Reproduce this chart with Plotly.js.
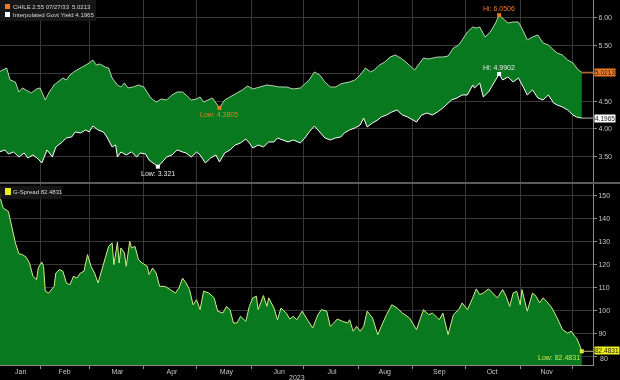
<!DOCTYPE html>
<html><head><meta charset="utf-8">
<script src="https://cdn.plot.ly/plotly-3.0.1.min.js"></script>
<style>html,body{margin:0;padding:0;background:#000;}#chart{width:620px;height:380px;will-change:transform;transform:translateZ(0);}</style>
</head><body><div id="chart"></div>
<script>
const YEAR = '2023';
const chileDates = ['01-09','01-11','01-13','01-15','01-18','01-20','01-22','01-24','01-27','01-30',
 '02-01','02-04','02-06','02-09','02-11','02-14','02-16','02-18','02-21','02-24',
 '02-27','03-01','03-03','03-05','03-07','03-10','03-12','03-14','03-17','03-19',
 '03-21','03-23','03-26','03-29','04-01','04-03','04-05','04-08','04-11','04-14',
 '04-17','04-20','04-23','04-25','04-28','05-01','05-03','05-05','05-08','05-10',
 '05-14','05-17','05-20','05-24','05-27','05-30','06-02','06-06','06-10','06-14',
 '06-17','06-21','06-25','06-29','07-02','07-04','07-07','07-10','07-13','07-16',
 '07-19','07-22','07-24','07-27','07-30','08-02','08-05','08-08','08-10','08-13',
 '08-16','08-19','08-22','08-25','08-28','08-30','09-02','09-04','09-07','09-10',
 '09-12','09-15','09-18','09-21','09-24','09-27','09-29','10-02','10-05','10-07',
 '10-09','10-12','10-15','10-18','10-20','10-22','10-25','10-28','10-31','11-03',
 '11-05','11-08','11-11','11-14','11-17','11-20','11-22','11-25','11-28','12-01',
 '12-04','12-06'];
const chileYield = [5.033,5.063,5.099,4.883,4.847,4.667,4.739,4.703,4.649,4.721,
 4.739,4.523,4.649,4.793,4.847,4.919,4.883,4.973,5.045,5.099,
 5.153,5.189,5.243,5.153,5.171,5.117,5.099,4.919,4.793,4.757,
 4.829,4.739,4.757,4.793,4.757,4.667,4.559,4.486,4.541,4.523,
 4.613,4.667,4.667,4.613,4.523,4.541,4.577,4.486,4.523,4.559,
 4.3805,4.523,4.577,4.649,4.703,4.775,4.721,4.757,4.793,4.775,
 4.757,4.757,4.721,4.739,4.829,4.883,5.027,4.973,4.847,4.757,
 4.757,4.811,4.829,4.847,4.883,4.973,5.099,5.027,5.063,5.153,
 5.207,5.297,5.333,5.279,5.207,5.153,5.063,5.153,5.279,5.261,
 5.279,5.297,5.297,5.315,5.459,5.514,5.604,5.748,5.838,5.820,
 5.838,5.658,5.748,5.910,6.0506,6.000,5.910,5.928,5.928,5.748,
 5.604,5.658,5.694,5.550,5.514,5.423,5.369,5.333,5.243,5.189,
 5.063,5.0213];
const govtDates = ['01-09','01-12','01-14','01-17','01-20','01-23','01-25','01-28','01-31','02-02',
 '02-05','02-08','02-10','02-13','02-16','02-19','02-21','02-24','02-27','03-01',
 '03-03','03-06','03-09','03-11','03-14','03-16','03-17','03-19','03-22','03-25',
 '03-28','03-30','04-02','04-04','04-07','04-09','04-11','04-14','04-17','04-20',
 '04-23','04-25','04-28','05-01','05-03','05-06','05-09','05-12','05-14','05-17',
 '05-20','05-23','05-26','05-29','05-31','06-02','06-05','06-08','06-11','06-14',
 '06-16','06-19','06-22','06-25','06-29','07-02','07-04','07-07','07-10','07-13',
 '07-16','07-19','07-22','07-24','07-27','07-30','08-02','08-04','08-06','08-09',
 '08-12','08-14','08-17','08-20','08-23','08-26','08-29','09-01','09-03','09-06',
 '09-09','09-12','09-15','09-18','09-20','09-23','09-26','09-29','10-02','10-05',
 '10-06','10-09','10-11','10-14','10-17','10-20','10-22','10-25','10-28','10-31',
 '11-03','11-05','11-08','11-11','11-14','11-17','11-20','11-22','11-25','11-28',
 '12-01','12-03','12-06'];
const govtYield = [3.586,3.622,3.550,3.586,3.495,3.568,3.477,3.532,3.459,3.387,
 3.622,3.495,3.676,3.748,3.838,3.856,3.946,3.928,3.982,3.946,
 4.054,3.982,3.946,3.856,3.676,3.712,3.495,3.586,3.532,3.586,
 3.495,3.568,3.550,3.441,3.369,3.321,3.387,3.495,3.532,3.622,
 3.586,3.568,3.495,3.586,3.532,3.387,3.477,3.532,3.405,3.568,
 3.622,3.712,3.748,3.820,3.748,3.658,3.712,3.676,3.766,3.766,
 3.838,3.802,3.766,3.802,3.748,3.856,3.946,4.054,3.946,3.838,
 3.802,3.838,3.856,3.928,3.982,4.018,4.072,4.198,4.036,4.108,
 4.162,4.216,4.252,4.306,4.342,4.252,4.216,4.162,4.126,4.252,
 4.288,4.252,4.306,4.378,4.432,4.523,4.559,4.613,4.613,4.793,
 4.739,4.829,4.577,4.667,4.829,4.9902,4.883,4.937,4.847,4.919,
 4.739,4.613,4.703,4.559,4.523,4.613,4.468,4.432,4.396,4.342,
 4.252,4.216,4.1965];
const spreadDates = ['01-09','01-11','01-14','01-16','01-18','01-20','01-22','01-24','01-26','01-28',
 '01-30','01-31','02-02','02-03','02-04','02-06','02-09','02-10','02-12','02-14',
 '02-16','02-18','02-20','02-22','02-24','02-26','02-28','03-02','03-04','03-06',
 '03-08','03-10','03-12','03-14','03-15','03-17','03-18','03-19','03-21','03-22',
 '03-24','03-25','03-27','03-29','03-31','04-03','04-04','04-06','04-08','04-10',
 '04-13','04-16','04-19','04-21','04-23','04-25','04-27','04-29','05-01','05-03',
 '05-05','05-08','05-11','05-13','05-16','05-18','05-20','05-22','05-24','05-26',
 '05-29','05-31','06-02','06-04','06-05','06-08','06-10','06-11','06-14','06-16',
 '06-18','06-21','06-23','06-25','06-27','06-30','07-03','07-06','07-09','07-11',
 '07-14','07-16','07-18','07-20','07-23','07-26','07-27','07-29','07-31','08-02',
 '08-04','08-06','08-09','08-12','08-14','08-17','08-20','08-23','08-26','08-30',
 '09-03','09-07','09-10','09-12','09-15','09-16','09-18','09-21','09-24','09-27',
 '09-29','10-02','10-05','10-07','10-09','10-11','10-14','10-17','10-19','10-22',
 '10-24','10-26','10-28','10-30','11-01','11-02','11-05','11-08','11-10','11-12',
 '11-14','11-16','11-19','11-22','11-25','11-28','11-30','12-02','12-03','12-05',
 '12-06'];
const gSpread = [150.2,144.8,143.3,136.8,129.6,124.9,124.5,123.5,120.9,115.1,
 113.6,118.7,121.3,119.4,108.6,107.8,110.7,116.5,118.0,117.3,
 112.2,111.4,115.1,114.3,116.5,117.3,124.5,119.4,116.5,112.2,
 117.3,122.3,128.1,129.6,120.1,129.9,120.9,127.4,125.2,119.4,
 130.3,127.4,128.1,122.3,120.9,119.4,115.8,118.7,116.5,110.7,
 110.7,109.3,107.8,110.0,114.3,112.2,109.3,102.7,104.9,100.6,
 108.6,107.8,105.7,99.9,99.1,102.0,100.6,94.8,94.8,97.7,
 95.5,102.0,105.7,106.4,100.6,106.7,102.0,105.7,101.3,96.2,
 101.3,99.1,96.5,97.7,96.2,99.9,96.2,92.6,98.4,100.6,
 99.9,93.3,94.8,96.5,95.5,94.8,96.2,91.2,93.3,91.2,
 93.3,99.9,97.0,89.7,93.3,98.4,102.7,101.3,99.1,97.0,
 91.9,100.6,98.4,99.1,97.0,96.2,99.1,89.7,98.4,100.6,
 103.5,100.6,105.7,109.6,107.1,107.8,109.6,107.1,105.7,109.3,
 106.4,102.0,107.8,108.6,102.7,109.3,99.9,107.8,106.4,103.5,
 105.7,104.2,101.3,97.0,91.9,90.4,91.2,89.0,88.3,84.7,
 82.4831];
const monthTickDates = ['01-21','02-15','03-17','04-17','05-18','06-17','07-17','08-16','09-16','10-16','11-16'];
const monthLabels = ['Jan','Feb','Mar','Apr','May','Jun','Jul','Aug','Sep','Oct','Nov'];
const topTicks = [3.5,4,4.5,5,5.5,6];
const topTickText = ['3.50','4.00','4.50','','5.50','6.00'];
const bottomTicks = [80,90,100,110,120,130,140,150];
const bottomTickText = ['','90','100','110','120','130','140','150'];
const bottomLowTick = 80;

const d = a => a.map(s => YEAR + '-' + s);
const GREEN = '#08791f';
const ORANGE = '#f07a22';
const YELLOWLINE = '#d4ec8a';
const GRID = '#383838';
const AX = '#8a8a8a';
const TXT = '#c4c4c4';
const FONT = 'Liberation Sans, Arial, sans-serif';
const xStart = '2023-01-09 06:00', xEnd = '2023-12-12 09:00';

function argIdx(arr, cmp) { let k = 0; for (let i = 1; i < arr.length; i++) if (cmp(arr[i], arr[k])) k = i; return k; }
const cHi = argIdx(chileYield, (a,b)=>a>b), cLo = argIdx(chileYield, (a,b)=>a<b);
const gHi = argIdx(govtYield, (a,b)=>a>b), gLo = argIdx(govtYield, (a,b)=>a<b);
const sHi = argIdx(gSpread, (a,b)=>a>b), sLo = argIdx(gSpread, (a,b)=>a<b);
const cX = d(chileDates), gX = d(govtDates), sX = d(spreadDates);
const last = a => a[a.length-1];

const traces = [
  {x: cX, y: chileYield, type:'scatter', mode:'lines', line:{color:'rgba(215,235,205,0.85)', width:1}, xaxis:'x', yaxis:'y'},
  {x: gX, y: govtYield, type:'scatter', mode:'lines', fill:'tonexty', fillcolor:GREEN, line:{color:'#ffffff', width:1}, xaxis:'x', yaxis:'y'},
  {x: sX, y: gSpread, type:'scatter', mode:'lines', fill:'tozeroy', fillcolor:GREEN, line:{color:YELLOWLINE, width:1}, xaxis:'x', yaxis:'y2'},
  {x: [cX[cHi], cX[cLo]], y: [chileYield[cHi], chileYield[cLo]], mode:'markers', marker:{color:ORANGE, size:4, symbol:'square'}, xaxis:'x', yaxis:'y'},
  {x: [gX[gHi], gX[gLo]], y: [govtYield[gHi], govtYield[gLo]], mode:'markers', marker:{color:'#ffffff', size:4, symbol:'square'}, xaxis:'x', yaxis:'y'},
  {x: [sX[sHi], sX[sLo]], y: [gSpread[sHi], gSpread[sLo]], mode:'markers', marker:{color:'#f0f020', size:4, symbol:'square'}, xaxis:'x', yaxis:'y2'}
];

const f = (c, s) => ({family: FONT, size: s || 7, color: c});
const LEG = 6;
const annotations = [
  {xref:'x', yref:'y', x:cX[cHi], y:chileYield[cHi], text:'Hi: ' + chileYield[cHi].toFixed(4), showarrow:false, yanchor:'bottom', yshift:1, font:f(ORANGE)},
  {xref:'x', yref:'y', x:cX[cLo], y:chileYield[cLo], text:'Low: ' + chileYield[cLo].toFixed(4), showarrow:false, yanchor:'top', yshift:-1, font:f(ORANGE)},
  {xref:'x', yref:'y', x:gX[gHi], y:govtYield[gHi], text:'Hi: ' + govtYield[gHi].toFixed(4), showarrow:false, yanchor:'bottom', yshift:1, font:f('#e8e8e8')},
  {xref:'x', yref:'y', x:gX[gLo], y:govtYield[gLo], text:'Low: ' + String(govtYield[gLo]), showarrow:false, yanchor:'top', yshift:-1, font:f('#e8e8e8')},
  {xref:'x', yref:'y2', x:sX[sLo], y:gSpread[sLo], text:'Low: ' + gSpread[sLo].toFixed(4), showarrow:false, xanchor:'right', yanchor:'top', yshift:-1, font:f('#c8e650')},
  {xref:'paper', yref:'y', x:1, y:last(chileYield), text:last(chileYield).toFixed(4), showarrow:false, xanchor:'left', xshift:1, bgcolor:ORANGE, borderpad:0, font:f('#202020', 6.5)},
  {xref:'paper', yref:'y', x:1, y:last(govtYield), text:last(govtYield).toFixed(4), showarrow:false, xanchor:'left', xshift:1, bgcolor:'#ffffff', borderpad:0, font:f('#202020', 6.5)},
  {xref:'paper', yref:'y2', x:1, y:last(gSpread), text:last(gSpread).toFixed(4), showarrow:false, xanchor:'left', xshift:1, yshift:1, bgcolor:'#f0f020', borderpad:0, font:f('#202020', 6.5)},
  {xref:'paper', yref:'y2', x:1, y:bottomLowTick, text:String(bottomLowTick), showarrow:false, xanchor:'left', xshift:5, yshift:-2, font:f(TXT)},
  {xref:'paper', yref:'paper', x:0.0185, y:0.9808, text:'CHILE 2.55 07/27/33', showarrow:false, xanchor:'left', yanchor:'middle', font:f('#d8d8d8', LEG)},
  {xref:'paper', yref:'paper', x:0.1565, y:0.9808, text:last(chileYield).toFixed(4), showarrow:false, xanchor:'right', yanchor:'middle', font:f('#d8d8d8', LEG)},
  {xref:'paper', yref:'paper', x:0.0185, y:0.9589, text:'Interpolated Govt Yield ' + last(govtYield).toFixed(4), showarrow:false, xanchor:'left', yanchor:'middle', font:f('#d8d8d8', LEG)},
  {xref:'paper', yref:'paper', x:0.0185, y:0.474, text:'G-Spread ' + last(gSpread).toFixed(4), showarrow:false, xanchor:'left', yanchor:'middle', font:f('#d8d8d8', LEG)},
  {xref:'paper', yref:'paper', x:0.5, y:-0.033, text:YEAR, showarrow:false, xanchor:'center', yanchor:'middle', font:f(TXT)}
];

const shapes = [
  {type:'line', xref:'paper', yref:'paper', x0:0, x1:1.046, y0:0.4986, y1:0.4986, line:{color:'#7a7a7a', width:1.5}},
  {type:'rect', xref:'paper', yref:'paper', x0:0, x1:0.162, y0:0.9425, y1:1, fillcolor:'rgba(24,24,24,0.9)', line:{width:0}},
  {type:'rect', xref:'paper', yref:'paper', x0:0, x1:0.1045, y0:0.4548, y1:0.4904, fillcolor:'rgba(24,24,24,0.9)', line:{width:0}},
  {type:'rect', xref:'paper', yref:'paper', x0:0.0084, x1:0.0169, y0:0.9753, y1:0.989, fillcolor:ORANGE, line:{width:0}},
  {type:'rect', xref:'paper', yref:'paper', x0:0.0084, x1:0.0169, y0:0.9534, y1:0.9671, fillcolor:'#ffffff', line:{width:0}},
  {type:'rect', xref:'paper', yref:'paper', x0:0.0084, x1:0.0185, y0:0.4658, y1:0.4849, fillcolor:'#f0f020', line:{width:0}},
  {type:'line', xref:'x', yref:'y', x0:last(cX), x1:xEnd, y0:last(chileYield), y1:last(chileYield), line:{color:ORANGE, width:1}},
  {type:'line', xref:'x', yref:'y', x0:last(gX), x1:xEnd, y0:last(govtYield), y1:last(govtYield), line:{color:'#bbbbbb', width:1}},
  {type:'line', xref:'x', yref:'y2', x0:last(sX), x1:xEnd, y0:last(gSpread), y1:last(gSpread), line:{color:'#b8b880', width:1}}
];

const layout = {
  width:620, height:380,
  paper_bgcolor:'#000', plot_bgcolor:'#000',
  margin:{l:0, r:27, t:0, b:15, pad:0},
  showlegend:false,
  font:{family:FONT, size:7, color:TXT},
  xaxis:{
    type:'date', domain:[0,1], anchor:'y2', range:[xStart, xEnd],
    tickmode:'array', tickvals:d(monthTickDates), ticktext:monthLabels,
    showgrid:false, ticks:'', zeroline:false, showline:true, linecolor:AX, linewidth:1,
    tickfont:{family:FONT, size:7, color:TXT},
    minor:{dtick:'M1', tick0:'2023-01-01', showgrid:true, gridcolor:GRID, gridwidth:1, ticks:'outside', ticklen:3, tickcolor:AX}
  },
  yaxis:{
    domain:[0.5014,1], anchor:'x', side:'right', range:[3.045, 6.324],
    tickmode:'array', tickvals:topTicks, ticktext:topTickText,
    showgrid:true, gridcolor:GRID, gridwidth:1, zeroline:false,
    ticks:'outside', ticklen:3, tickcolor:AX, showline:true, linecolor:AX, linewidth:1,
    tickfont:{family:FONT, size:7, color:TXT}
  },
  yaxis2:{
    domain:[0,0.4959], anchor:'x', side:'right', range:[76.52, 155.2],
    tickmode:'array', tickvals:bottomTicks, ticktext:bottomTickText,
    showgrid:true, gridcolor:GRID, gridwidth:1, zeroline:false,
    ticks:'outside', ticklen:3, tickcolor:AX, showline:true, linecolor:AX, linewidth:1,
    tickfont:{family:FONT, size:7, color:TXT}
  },
  annotations: annotations,
  shapes: shapes
};

Plotly.newPlot('chart', traces, layout, {staticPlot:true, displayModeBar:false});
</script>
</body></html>
